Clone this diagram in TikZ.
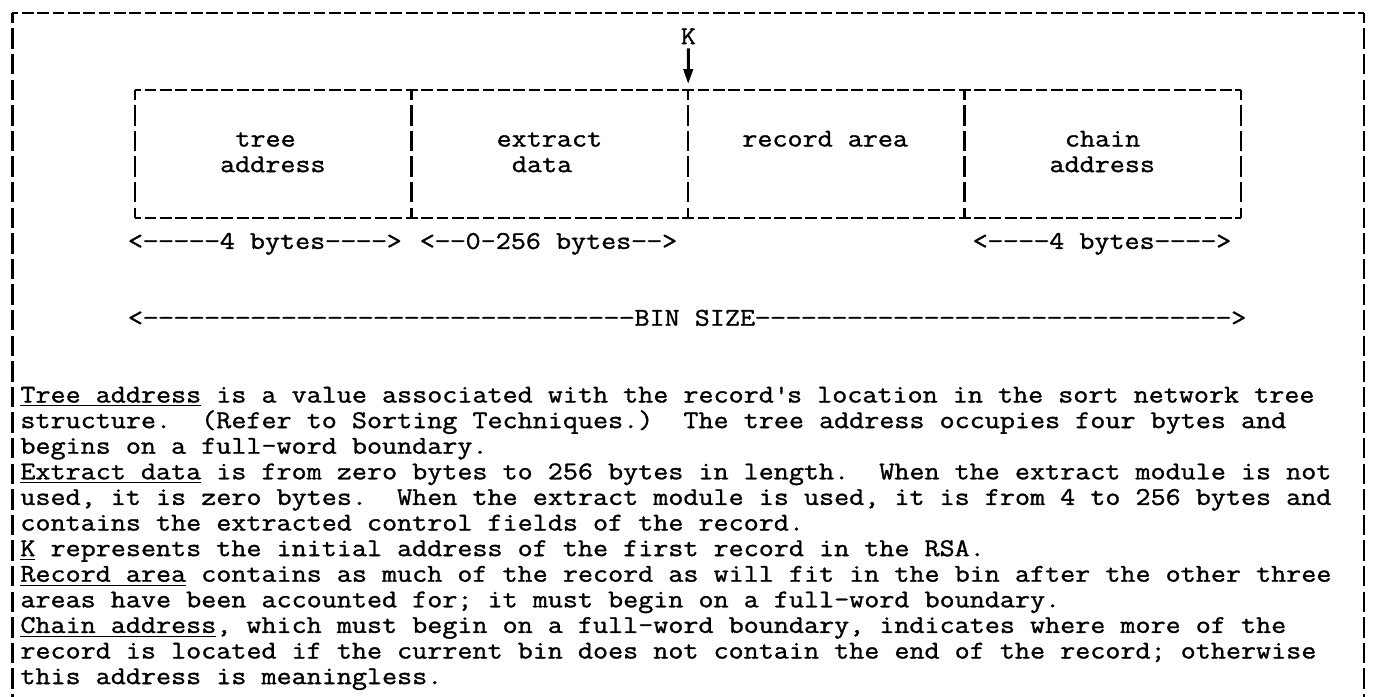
\documentclass[tikz,border=0pt]{standalone}
\usepackage{fontspec}
\usepackage{graphicx}
\setmonofont{lmmono12-regular.otf}[FakeStretch=1.143, FakeBold=1.2]
\usetikzlibrary{arrows.meta}

% one typewriter dash in its own character cell
\newcommand\sh{\makebox[7.2pt]{\scalebox{1.1}[1]{-}}}
\newcommand\shs[1]{\foreach \i in {1,...,#1}{\sh}}

\begin{document}
\begin{tikzpicture}[
  x=0.46875pt, y=-0.46875pt,
  every node/.style={inner sep=0pt, anchor=base west,
    font=\ttfamily\fontsize{12}{12}\selectfont},
  hline/.style={line width=1pt, dash pattern=on 5.5pt off 1.7pt, dash phase=2.75pt},
  vline/.style={line width=1.2pt, dash pattern=on 9.6pt off 2.4pt, dash phase=4.8pt},
  karrow/.style={line width=1.4pt, -{Triangle[length=7pt,width=4.4pt]}, shorten <=1.8pt},
]
\useasboundingbox (0,0) rectangle (1374,697);
\frenchspacing

% outer frame (open at the foot of the page)
\draw[hline] (12.32,13) -- (1364,13);
\draw[vline] (12.32,13) -- (12.32,697);
\draw[vline] (1364,13) -- (1364,697);

% bin layout box and its four areas
\draw[hline] (135.2,89.8) -- (1241.1,89.8);
\draw[hline] (135.2,217.8) -- (1241.1,217.8);
\foreach \bx in {135.2,411.68,688.16,964.64,1241.1}
  \draw[vline] (\bx,89.8) -- (\bx,217.8);

\node (tree1)  at (235.0,146.5) {tree};
\node (tree2)  at (219.7,172.1) {address};
\node (extr1)  at (496.2,146.5) {extract};
\node (extr2)  at (511.5,172.1) {data};
\node (rec)    at (741.9,146.5) {record area};
\node (chain1) at (1064.5,146.5) {chain};
\node (chain2) at (1049.1,172.1) {address};

% pointer K to the start of the record area
\node (K) at (680.5,44.1) {K};
\coordinate (ktip) at (688.16,84);
\draw[karrow] (K) -- (ktip);

% field lengths
\node (len1) at (127.5,248.9) {<\shs{5}4 bytes\shs{4}>};
\node (len2) at (419.4,248.9) {<\shs{2}0-256 bytes\shs{2}>};
\node (len4) at (972.3,248.9) {<\shs{4}4 bytes\shs{4}>};
\node (bin)  at (127.5,325.7) {<\shs{32}BIN SIZE\shs{31}>};

% description of the areas
\node (p1)  at (20,402.5) {\underline{Tree address} is a value associated with the record\textquotesingle s location in the sort network tree};
\node (p2)  at (20,428.1) {structure.~~(Refer to Sorting Techniques.)~~The tree address occupies four bytes and};
\node (p3)  at (20,453.7) {begins on a full-word boundary.};
\node (p4)  at (20,479.3) {\underline{Extract data} is from zero bytes to 256 bytes in length.~~When the extract module is not};
\node (p5)  at (20,504.9) {used, it is zero bytes.~~When the extract module is used, it is from 4 to 256 bytes and};
\node (p6)  at (20,530.5) {contains the extracted control fields of the record.};
\node (p7)  at (20,556.1) {\underline{K} represents the initial address of the first record in the RSA.};
\node (p8)  at (20,581.7) {\underline{Record area} contains as much of the record as will fit in the bin after the other three};
\node (p9)  at (20,607.3) {areas have been accounted for; it must begin on a full-word boundary.};
\node (p10) at (20,632.9) {\underline{Chain address}, which must begin on a full-word boundary, indicates where more of the};
\node (p11) at (20,658.5) {record is located if the current bin does not contain the end of the record; otherwise};
\node (p12) at (20,684.1) {this address is meaningless.};
\end{tikzpicture}
\end{document}
